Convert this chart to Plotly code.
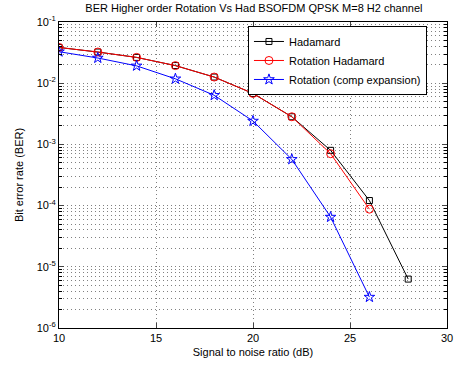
import plotly.graph_objects as go

snr = [10, 12, 14, 16, 18, 20, 22, 24, 26, 28]
ber_hadamard = [0.0384, 0.0323, 0.0264, 0.0194, 0.0126, 0.0068, 0.00283, 0.00080, 0.000121, 0.0000063]
snr_rot = [10, 12, 14, 16, 18, 20, 22, 24, 26]
ber_rot_hadamard = [0.0384, 0.0323, 0.0264, 0.0194, 0.0126, 0.0068, 0.00283, 0.000705, 0.0000875]
ber_rot_comp = [0.0327, 0.0258, 0.0192, 0.0118, 0.00635, 0.00241, 0.00057, 0.000065, 0.0000032]

y_tick_vals = [1e-6, 1e-5, 1e-4, 1e-3, 1e-2, 1e-1]
y_tick_text = ["10<sup>-6</sup>", "10<sup>-5</sup>", "10<sup>-4</sup>",
               "10<sup>-3</sup>", "10<sup>-2</sup>", "10<sup>-1</sup>"]
x_tick_vals = [10, 15, 20, 25, 30]

FONT = "Liberation Sans, Arial, Helvetica, sans-serif"

minor_vals = []
for e in range(-6, -1):
    for m in range(2, 10):
        minor_vals.append(m * 10.0 ** e)

fig = go.Figure()
fig.add_trace(go.Scatter(
    x=snr, y=ber_hadamard, mode="lines+markers", name="Hadamard",
    line=dict(color="black", width=1),
    marker=dict(symbol="square-open", size=6, color="black", line=dict(width=1))))
fig.add_trace(go.Scatter(
    x=snr_rot, y=ber_rot_hadamard, mode="lines+markers", name="Rotation Hadamard",
    line=dict(color="red", width=1),
    marker=dict(symbol="circle-open", size=8, color="red", line=dict(width=1))))
fig.add_trace(go.Scatter(
    x=snr_rot, y=ber_rot_comp, mode="lines+markers", name="Rotation (comp expansion)",
    line=dict(color="blue", width=1),
    marker=dict(symbol="star-open", size=8, color="blue", line=dict(width=1))))

grid_col = "#808080"
fig.update_layout(
    width=465, height=369,
    margin=dict(l=59, r=16, t=22, b=38),
    paper_bgcolor="white", plot_bgcolor="white",
    font=dict(family=FONT, size=11, color="black"),
    title=dict(text="BER Higher order Rotation Vs Had BSOFDM QPSK M=8 H2 channel",
               x=0.546, xanchor="center", y=0.978, yanchor="middle",
               font=dict(size=11)),
    showlegend=True,
    legend=dict(x=0.487, y=0.987, xanchor="left", yanchor="top",
                bgcolor="white", bordercolor="black", borderwidth=1,
                font=dict(size=11), tracegroupgap=0, itemwidth=30),
)
fig.update_xaxes(
    range=[10, 30], tickvals=x_tick_vals, ticks="inside", ticklen=5,
    showline=True, linecolor="black", linewidth=1, mirror="ticks",
    showgrid=True, gridcolor=grid_col, griddash="1px,3px", gridwidth=1,
    zeroline=False,
    title=dict(text="Signal to noise ratio (dB)", standoff=5, font=dict(size=11)),
)
fig.update_yaxes(
    type="log", range=[-6, -1], tickvals=y_tick_vals, ticktext=y_tick_text,
    ticks="inside", ticklen=5,
    showline=True, linecolor="black", linewidth=1, mirror="ticks",
    showgrid=True, gridcolor=grid_col, griddash="1px,3px", gridwidth=1,
    zeroline=False,
    minor=dict(tickvals=minor_vals, ticks="inside", ticklen=3, tickcolor="black",
               showgrid=True, gridcolor=grid_col, griddash="1px,3px", gridwidth=1),
    title=dict(text="Bit error rate (BER)", standoff=10, font=dict(size=11)),
)

fig.write_html("out.html")
